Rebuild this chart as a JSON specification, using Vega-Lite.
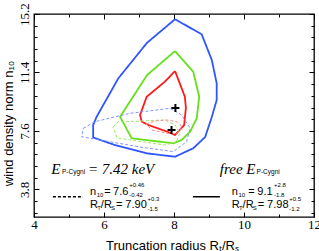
{
  "$schema": "https://vega.github.io/schema/vega-lite/v6.json",
  "width": 280,
  "height": 203,
  "autosize": {"type": "none"},
  "padding": {"left": 34, "top": 14, "right": 5, "bottom": 34},
  "background": "white",
  "config": {"view": {"stroke": "black", "strokeWidth": 1.3}},
  "datasets": {
    "contours": [
      {"s": "free3", "fit": "free", "i": 1, "x": 8.03, "y": 14.86},
      {"s": "free3", "fit": "free", "i": 2, "x": 8.79, "y": 13.88},
      {"s": "free3", "fit": "free", "i": 3, "x": 9.08, "y": 12.21},
      {"s": "free3", "fit": "free", "i": 4, "x": 9.22, "y": 10.69},
      {"s": "free3", "fit": "free", "i": 5, "x": 9.22, "y": 9.61},
      {"s": "free3", "fit": "free", "i": 6, "x": 9.08, "y": 8.5},
      {"s": "free3", "fit": "free", "i": 7, "x": 8.89, "y": 7.2},
      {"s": "free3", "fit": "free", "i": 8, "x": 8.55, "y": 6.47},
      {"s": "free3", "fit": "free", "i": 9, "x": 8.03, "y": 5.92},
      {"s": "free3", "fit": "free", "i": 10, "x": 7.22, "y": 6.14},
      {"s": "free3", "fit": "free", "i": 11, "x": 6.31, "y": 6.68},
      {"s": "free3", "fit": "free", "i": 12, "x": 5.69, "y": 7.17},
      {"s": "free3", "fit": "free", "i": 13, "x": 5.69, "y": 7.98},
      {"s": "free3", "fit": "free", "i": 14, "x": 5.79, "y": 8.52},
      {"s": "free3", "fit": "free", "i": 15, "x": 6.41, "y": 11.02},
      {"s": "free3", "fit": "free", "i": 16, "x": 7.23, "y": 13.33},
      {"s": "free3", "fit": "free", "i": 17, "x": 8.03, "y": 14.86},
      {"s": "free2", "fit": "free", "i": 1, "x": 8.03, "y": 12.79},
      {"s": "free2", "fit": "free", "i": 2, "x": 8.55, "y": 11.45},
      {"s": "free2", "fit": "free", "i": 3, "x": 8.72, "y": 9.82},
      {"s": "free2", "fit": "free", "i": 4, "x": 8.65, "y": 8.42},
      {"s": "free2", "fit": "free", "i": 5, "x": 8.46, "y": 7.55},
      {"s": "free2", "fit": "free", "i": 6, "x": 8.22, "y": 7.01},
      {"s": "free2", "fit": "free", "i": 7, "x": 7.98, "y": 6.79},
      {"s": "free2", "fit": "free", "i": 8, "x": 6.79, "y": 7.12},
      {"s": "free2", "fit": "free", "i": 9, "x": 6.46, "y": 8.52},
      {"s": "free2", "fit": "free", "i": 10, "x": 7.23, "y": 11.23},
      {"s": "free2", "fit": "free", "i": 11, "x": 8.03, "y": 12.79},
      {"s": "free1", "fit": "free", "i": 1, "x": 8.03, "y": 11.49},
      {"s": "free1", "fit": "free", "i": 2, "x": 8.31, "y": 9.82},
      {"s": "free1", "fit": "free", "i": 3, "x": 8.34, "y": 9.09},
      {"s": "free1", "fit": "free", "i": 4, "x": 8.29, "y": 7.98},
      {"s": "free1", "fit": "free", "i": 5, "x": 8.03, "y": 7.33},
      {"s": "free1", "fit": "free", "i": 6, "x": 7.83, "y": 7.53},
      {"s": "free1", "fit": "free", "i": 7, "x": 7.27, "y": 7.98},
      {"s": "free1", "fit": "free", "i": 8, "x": 7.08, "y": 8.2},
      {"s": "free1", "fit": "free", "i": 9, "x": 7.03, "y": 8.63},
      {"s": "free1", "fit": "free", "i": 10, "x": 7.22, "y": 9.82},
      {"s": "free1", "fit": "free", "i": 11, "x": 7.74, "y": 10.8},
      {"s": "free1", "fit": "free", "i": 12, "x": 8.03, "y": 11.49},
      {"s": "fix3", "fit": "fixed", "i": 1, "x": 5.41, "y": 7.77},
      {"s": "fix3", "fit": "fixed", "i": 2, "x": 5.74, "y": 8.2},
      {"s": "fix3", "fit": "fixed", "i": 3, "x": 6.74, "y": 8.74},
      {"s": "fix3", "fit": "fixed", "i": 4, "x": 7.89, "y": 9.07},
      {"s": "fix3", "fit": "fixed", "i": 5, "x": 8.22, "y": 8.63},
      {"s": "fix3", "fit": "fixed", "i": 6, "x": 8.46, "y": 7.77},
      {"s": "fix3", "fit": "fixed", "i": 7, "x": 8.36, "y": 6.9},
      {"s": "fix3", "fit": "fixed", "i": 8, "x": 7.98, "y": 6.25},
      {"s": "fix3", "fit": "fixed", "i": 9, "x": 7.03, "y": 6.55},
      {"s": "fix3", "fit": "fixed", "i": 10, "x": 5.36, "y": 7.22},
      {"s": "fix3", "fit": "fixed", "i": 11, "x": 5.41, "y": 7.77},
      {"s": "fix2", "fit": "fixed", "i": 1, "x": 6.26, "y": 7.85},
      {"s": "fix2", "fit": "fixed", "i": 2, "x": 6.4, "y": 8.18},
      {"s": "fix2", "fit": "fixed", "i": 3, "x": 7.03, "y": 8.24},
      {"s": "fix2", "fit": "fixed", "i": 4, "x": 7.74, "y": 8.31},
      {"s": "fix2", "fit": "fixed", "i": 5, "x": 8.03, "y": 7.98},
      {"s": "fix2", "fit": "fixed", "i": 6, "x": 8.17, "y": 7.46},
      {"s": "fix2", "fit": "fixed", "i": 7, "x": 8.06, "y": 6.88},
      {"s": "fix2", "fit": "fixed", "i": 8, "x": 7.74, "y": 6.68},
      {"s": "fix2", "fit": "fixed", "i": 9, "x": 6.37, "y": 7.14},
      {"s": "fix2", "fit": "fixed", "i": 10, "x": 6.26, "y": 7.85},
      {"s": "fix1", "fit": "fixed", "i": 1, "x": 7.2, "y": 8.05},
      {"s": "fix1", "fit": "fixed", "i": 2, "x": 7.46, "y": 8.24},
      {"s": "fix1", "fit": "fixed", "i": 3, "x": 7.8, "y": 8.31},
      {"s": "fix1", "fit": "fixed", "i": 4, "x": 8.11, "y": 8.18},
      {"s": "fix1", "fit": "fixed", "i": 5, "x": 8.23, "y": 7.85},
      {"s": "fix1", "fit": "fixed", "i": 6, "x": 8.11, "y": 7.46},
      {"s": "fix1", "fit": "fixed", "i": 7, "x": 7.89, "y": 7.4},
      {"s": "fix1", "fit": "fixed", "i": 8, "x": 7.37, "y": 7.66},
      {"s": "fix1", "fit": "fixed", "i": 9, "x": 7.2, "y": 8.05}
    ],
    "best": [
      {"fit": "free", "x": 8.04, "y": 9.08},
      {"fit": "fixed", "x": 7.93, "y": 7.65}
    ],
    "keys": [
      {"fit": "fixed", "x": 4.54, "x2": 5.4, "y": 3.32},
      {"fit": "free", "x": 8.54, "x2": 9.31, "y": 3.32}
    ],
    "texts": [
      {"role": "it", "x": 4.49, "y": 4.8, "t": "E"},
      {"role": "itsub", "x": 4.8, "y": 4.77, "t": "P-Cygni"},
      {"role": "it", "x": 5.54, "y": 4.8, "t": "= 7.42 keV"},
      {"role": "it", "x": 9.31, "y": 4.8, "t": "free E"},
      {"role": "itsub", "x": 10.36, "y": 4.77, "t": "P-Cygni"},
      {"role": "lg", "x": 5.6, "y": 3.4, "t": "n"},
      {"role": "lgs", "x": 5.79, "y": 3.33, "t": "10"},
      {"role": "lg", "x": 6.01, "y": 3.4, "t": "="},
      {"role": "lg", "x": 6.26, "y": 3.4, "t": "7.6"},
      {"role": "lgs", "x": 6.72, "y": 3.92, "t": "+0.46"},
      {"role": "lgs", "x": 6.72, "y": 3.27, "t": "-0.42"},
      {"role": "lg", "x": 5.6, "y": 2.59, "t": "R"},
      {"role": "lgs", "x": 5.81, "y": 2.46, "t": "T"},
      {"role": "lg", "x": 5.91, "y": 2.59, "t": "/R"},
      {"role": "lgs", "x": 6.2, "y": 2.46, "t": "S"},
      {"role": "lg", "x": 6.34, "y": 2.59, "t": "="},
      {"role": "lg", "x": 6.61, "y": 2.59, "t": "7.90"},
      {"role": "lgs", "x": 7.24, "y": 3.06, "t": "+0.3"},
      {"role": "lgs", "x": 7.24, "y": 2.37, "t": "-1.5"},
      {"role": "lg", "x": 9.65, "y": 3.4, "t": "n"},
      {"role": "lgs", "x": 9.84, "y": 3.33, "t": "10"},
      {"role": "lg", "x": 10.12, "y": 3.4, "t": "="},
      {"role": "lg", "x": 10.38, "y": 3.4, "t": "9.1"},
      {"role": "lgs", "x": 10.86, "y": 3.92, "t": "+2.8"},
      {"role": "lgs", "x": 10.86, "y": 3.27, "t": "-1.8"},
      {"role": "lg", "x": 9.65, "y": 2.59, "t": "R"},
      {"role": "lgs", "x": 9.86, "y": 2.46, "t": "T"},
      {"role": "lg", "x": 9.96, "y": 2.59, "t": "/R"},
      {"role": "lgs", "x": 10.25, "y": 2.46, "t": "S"},
      {"role": "lg", "x": 10.39, "y": 2.59, "t": "="},
      {"role": "lg", "x": 10.66, "y": 2.59, "t": "7.98"},
      {"role": "lgs", "x": 11.29, "y": 3.06, "t": "+0.5"},
      {"role": "lgs", "x": 11.29, "y": 2.37, "t": "-1.2"}
    ]
  },
  "resolve": {"axis": {"x": "independent", "y": "independent"}},
  "layer": [
    {
      "data": {"name": "contours"},
      "mark": {"type": "line", "interpolate": "linear", "strokeJoin": "miter"},
      "encoding": {
        "x": {
          "field": "x", "type": "quantitative",
          "scale": {"domain": [4, 12], "nice": false, "zero": false},
          "axis": {
            "orient": "bottom",
            "values": [4, 5, 6, 7, 8, 9, 10, 11, 12],
            "labelExpr": "datum.value % 2 === 0 ? datum.label : ''",
            "tickSize": {"condition": {"test": "datum.value % 2 === 0", "value": -5}, "value": -3},
            "tickColor": "black", "tickWidth": 1,
            "domain": false, "grid": false,
            "labelFont": "Liberation Serif", "labelFontSize": 13, "labelColor": "black",
            "labelPadding": 6, "labelFlush": false,
            "title": "Truncation radius Rₜ/Rₛ",
            "titleFont": "Liberation Sans", "titleFontSize": 13, "titleFontWeight": "normal", "titleColor": "black",
            "titleX": 138, "titleY": 32, "titleBaseline": "alphabetic", "titleAlign": "center"
          }
        },
        "y": {
          "field": "y", "type": "quantitative",
          "scale": {"domain": [2, 15.2], "nice": false, "zero": false},
          "axis": {
            "orient": "left",
            "values": [2.28, 3.04, 3.8, 4.56, 5.32, 6.08, 6.84, 7.6, 8.36, 9.12, 9.88, 10.64, 11.4, 12.16, 12.92, 13.68, 14.44, 15.2],
            "labelExpr": "abs(datum.value / 3.8 - round(datum.value / 3.8)) < 0.01 ? format(datum.value, '.1f') : ''",
            "tickSize": {"condition": {"test": "abs(datum.value / 3.8 - round(datum.value / 3.8)) < 0.01", "value": -5}, "value": -3},
            "tickColor": "black", "tickWidth": 1,
            "domain": false, "grid": false,
            "labelAngle": -90, "labelAlign": "center", "labelBaseline": "alphabetic",
            "labelFont": "Liberation Serif", "labelFontSize": 13, "labelColor": "black",
            "labelPadding": 11, "labelFlush": false,
            "title": "wind density norm n₁₀",
            "titleFont": "Liberation Sans", "titleFontSize": 13, "titleFontWeight": "normal", "titleColor": "black",
            "titleAngle": -90, "titleX": -22, "titleY": 109, "titleBaseline": "alphabetic", "titleAlign": "center"
          }
        },
        "detail": {"field": "s"},
        "order": {"field": "i", "type": "quantitative"},
        "color": {
          "field": "s", "type": "nominal", "legend": null,
          "scale": {"domain": ["free3", "free2", "free1", "fix3", "fix2", "fix1"],
                    "range": ["#2f55ff", "#66e01a", "#ff1a1a", "#7f95ff", "#9ee86a", "#ff8a8a"]}
        },
        "strokeDash": {
          "field": "fit", "type": "nominal", "legend": null,
          "scale": {"domain": ["free", "fixed"], "range": [[1, 0], [3, 2]]}
        },
        "strokeWidth": {
          "field": "fit", "type": "nominal", "legend": null,
          "scale": {"domain": ["free", "fixed"], "range": [1.8, 1]}
        }
      }
    },
    {
      "data": {"name": "best"},
      "mark": {"type": "point", "shape": "M-1,0H1M0,-1V1", "filled": false, "stroke": "black", "strokeWidth": 2, "size": 64, "opacity": 1},
      "encoding": {
        "x": {
          "field": "x", "type": "quantitative",
          "axis": {
            "orient": "top", "values": [4, 5, 6, 7, 8, 9, 10, 11, 12],
            "labels": false, "title": null, "domain": false, "grid": false,
            "tickSize": {"condition": {"test": "datum.value % 2 === 0", "value": -5}, "value": -3},
            "tickColor": "black", "tickWidth": 1
          }
        },
        "y": {
          "field": "y", "type": "quantitative",
          "axis": {
            "orient": "right",
            "values": [2.28, 3.04, 3.8, 4.56, 5.32, 6.08, 6.84, 7.6, 8.36, 9.12, 9.88, 10.64, 11.4, 12.16, 12.92, 13.68, 14.44, 15.2],
            "labels": false, "title": null, "domain": false, "grid": false,
            "tickSize": {"condition": {"test": "abs(datum.value / 3.8 - round(datum.value / 3.8)) < 0.01", "value": -5}, "value": -3},
            "tickColor": "black", "tickWidth": 1
          }
        }
      }
    },
    {
      "data": {"name": "keys"},
      "mark": {"type": "rule", "color": "black", "strokeWidth": 1.5},
      "encoding": {
        "x": {"field": "x", "type": "quantitative", "axis": null},
        "x2": {"field": "x2"},
        "y": {"field": "y", "type": "quantitative", "axis": null},
        "strokeDash": {
          "field": "fit", "type": "nominal", "legend": null,
          "scale": {"domain": ["free", "fixed"], "range": [[1, 0], [1.5, 1.5]]}
        }
      }
    },
    {
      "data": {"name": "texts"},
      "transform": [{"filter": "datum.role === 'it'"}],
      "mark": {"type": "text", "align": "left", "baseline": "alphabetic", "font": "Liberation Serif", "fontStyle": "italic", "fontSize": 15, "color": "black"},
      "encoding": {
        "x": {"field": "x", "type": "quantitative", "axis": null},
        "y": {"field": "y", "type": "quantitative", "axis": null},
        "text": {"field": "t"}
      }
    },
    {
      "data": {"name": "texts"},
      "transform": [{"filter": "datum.role === 'itsub'"}],
      "mark": {"type": "text", "align": "left", "baseline": "alphabetic", "font": "Liberation Sans", "fontSize": 6.5, "color": "black"},
      "encoding": {
        "x": {"field": "x", "type": "quantitative", "axis": null},
        "y": {"field": "y", "type": "quantitative", "axis": null},
        "text": {"field": "t"}
      }
    },
    {
      "data": {"name": "texts"},
      "transform": [{"filter": "datum.role === 'lg'"}],
      "mark": {"type": "text", "align": "left", "baseline": "alphabetic", "font": "Liberation Sans", "fontSize": 11, "color": "black"},
      "encoding": {
        "x": {"field": "x", "type": "quantitative", "axis": null},
        "y": {"field": "y", "type": "quantitative", "axis": null},
        "text": {"field": "t"}
      }
    },
    {
      "data": {"name": "texts"},
      "transform": [{"filter": "datum.role === 'lgs'"}],
      "mark": {"type": "text", "align": "left", "baseline": "alphabetic", "font": "Liberation Sans", "fontSize": 6, "color": "black"},
      "encoding": {
        "x": {"field": "x", "type": "quantitative", "axis": null},
        "y": {"field": "y", "type": "quantitative", "axis": null},
        "text": {"field": "t"}
      }
    }
  ]
}
